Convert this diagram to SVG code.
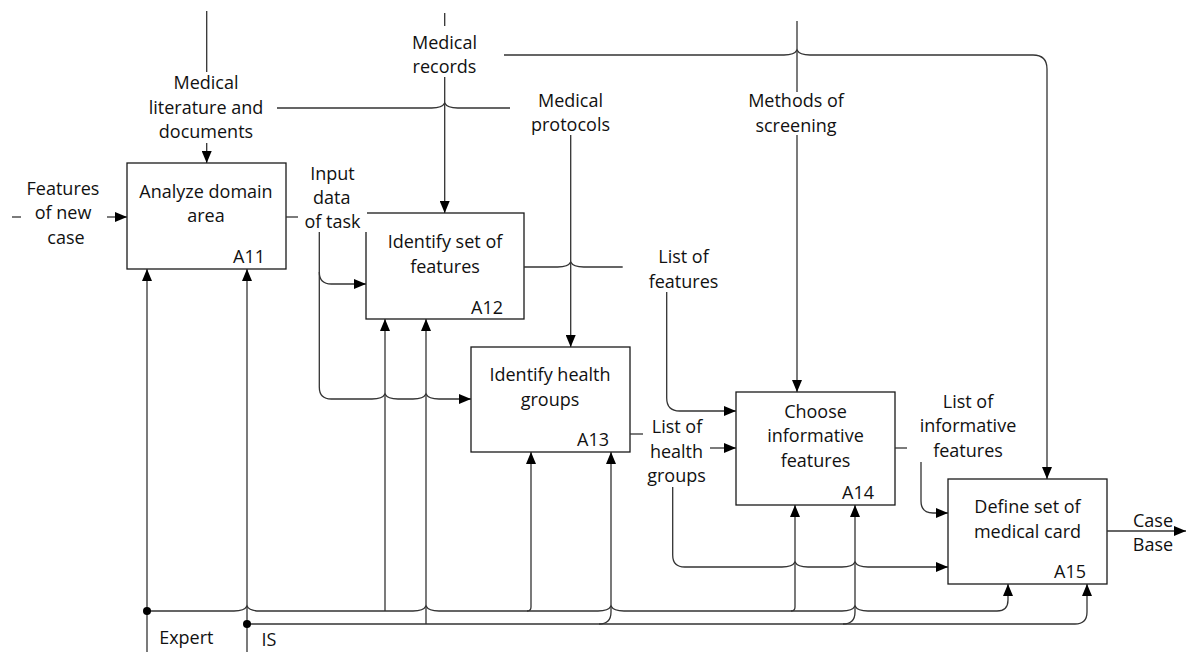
<svg xmlns="http://www.w3.org/2000/svg" width="1186" height="652" viewBox="0 0 1186 652">
<style>
.box{fill:#fff;stroke:#1a1a1a;stroke-width:1.3}
.t{font-family:"Open Sans","Liberation Sans",sans-serif;font-size:18px;fill:#111;text-anchor:middle}
.code{text-anchor:end}
.ln{fill:none;stroke:#333;stroke-width:1.3}
.arr{marker-end:url(#ah)}
</style>
<defs>
<marker id="ah" markerWidth="12" markerHeight="10" refX="12" refY="5" orient="auto" markerUnits="userSpaceOnUse">
<path d="M0,0 L12,5 L0,10 z" fill="#000"/>
</marker>
</defs>
<rect width="1186" height="652" fill="#fff"/>

<g id="A11">
<rect class="box" x="127" y="163" width="159" height="106"/>
<text class="t" x="206" y="198.3">Analyze domain</text>
<text class="t" x="206" y="222">area</text>
<text class="t code" x="265" y="263.3">A11</text>
</g>
<g id="A12">
<rect class="box" x="366" y="213" width="158" height="106"/>
<text class="t" x="445" y="247.7">Identify set of</text>
<text class="t" x="445" y="272.5">features</text>
<text class="t code" x="503" y="314">A12</text>
</g>
<g id="A13">
<rect class="box" x="471" y="347" width="159" height="105"/>
<text class="t" x="550" y="381">Identify health</text>
<text class="t" x="550" y="405.5">groups</text>
<text class="t code" x="609" y="445.7">A13</text>
</g>
<g id="A14">
<rect class="box" x="736" y="392" width="159" height="113"/>
<text class="t" x="815.5" y="418.3">Choose</text>
<text class="t" x="815.5" y="441.7">informative</text>
<text class="t" x="815.5" y="466.7">features</text>
<text class="t code" x="874" y="499">A14</text>
</g>
<g id="A15">
<rect class="box" x="948" y="479" width="159" height="105"/>
<text class="t" x="1027.5" y="513.3">Define set of</text>
<text class="t" x="1027.5" y="537.7">medical card</text>
<text class="t code" x="1086" y="578.3">A15</text>
</g>

<g id="connectors">
<!-- Medical literature -->
<path class="ln" d="M206.7 11 V72"/>
<path class="ln arr" d="M206.7 143 V163"/>
<path class="ln" d="M277 108 H431.7 C438.7,108 442.7,107 444.7,103 C446.7,107 450.7,108 457.7,108 H510"/>
<text class="t" x="206" y="89.3">Medical</text>
<text class="t" x="206" y="113.8">literature and</text>
<text class="t" x="206" y="138.3">documents</text>
<!-- Medical records -->
<path class="ln" d="M444.7 13 V26"/>
<path class="ln arr" d="M444.7 77 V213"/>
<text class="t" x="444.5" y="48.7">Medical</text>
<text class="t" x="444.5" y="72.7">records</text>
<path class="ln arr" d="M504 55 H784 C791,55 795,54 797,50 C799,54 803,55 810,55 H1033 Q1047,55 1047,69 V479"/>
<!-- Medical protocols -->
<path class="ln arr" d="M570.7 135 V347"/>
<text class="t" x="570.5" y="106.7">Medical</text>
<text class="t" x="570.5" y="131">protocols</text>
<!-- Methods of screening -->
<path class="ln" d="M797 21 V92"/>
<path class="ln arr" d="M797 135 V392"/>
<text class="t" x="796" y="107.3">Methods of</text>
<text class="t" x="796" y="131.7">screening</text>
<!-- Features of new case -->
<path class="ln" d="M12 217 H21"/>
<path class="ln arr" d="M107 217 H127"/>
<text class="t" x="63" y="195">Features</text>
<text class="t" x="63" y="219">of new</text>
<text class="t" x="66" y="243.5">case</text>
<!-- Input data of task -->
<path class="ln" d="M286 217 H298"/>
<rect x="300" y="200" width="67" height="32" fill="#fff"/>
<path class="ln arr" d="M319.3 232 V272 Q319.3,284 331.3,284 H366"/>
<path class="ln arr" d="M319.3 272 V387 Q319.3,399 331.3,399 H372 C379,399 383,398 385,394 C387,398 391,399 398,399 H413 C420,399 424,398 426,394 C428,398 432,399 439,399 H471"/>
<text class="t" x="332.5" y="180">Input</text>
<text class="t" x="331.7" y="204">data</text>
<text class="t" x="332.5" y="227.7">of task</text>
<!-- List of features -->
<path class="ln" d="M524 267 H557.7 C564.7,267 568.7,266 570.7,262 C572.7,266 576.7,267 583.7,267 H622.7"/>
<path class="ln arr" d="M666.7 292 V398 Q666.7,411 679.7,411 H736"/>
<text class="t" x="683.5" y="263.3">List of</text>
<text class="t" x="683.5" y="287.7">features</text>
<!-- List of health groups -->
<path class="ln" d="M630 434 H643"/>
<path class="ln arr" d="M710 448 H736"/>
<path class="ln arr" d="M672.7 487 V555 Q672.7,567 684.7,567 H782 C789,567 793,566 795,562 C797,566 801,567 808,567 H842 C849,567 853,566 855,562 C857,566 861,567 868,567 H948"/>
<text class="t" x="677" y="433.3">List of</text>
<text class="t" x="676.5" y="458.3">health</text>
<text class="t" x="676.5" y="481.7">groups</text>
<!-- List of informative features -->
<path class="ln" d="M895 448 H907"/>
<path class="ln arr" d="M921 462 V501 Q921,513 933,513 H948"/>
<text class="t" x="968" y="408.3">List of</text>
<text class="t" x="968" y="432.3">informative</text>
<text class="t" x="968" y="456.7">features</text>
<!-- Case Base -->
<path class="ln arr" d="M1107 531 H1186"/>
<text class="t" x="1153" y="526.7">Case</text>
<text class="t" x="1153" y="550.7">Base</text>
<!-- Expert -->
<path class="ln arr" d="M147 652 V269"/>
<path class="ln arr" d="M147 611 H234 C241,611 245,610 247,606 C249,610 253,611 260,611 H413 C420,611 424,610 426,606 C428,610 432,611 439,611 H598 C605,611 609,610 611,606 C613,610 617,611 624,611 H842 C849,611 853,610 855,606 C857,610 861,611 868,611 H997 Q1008,611 1008,600 V584"/>
<path class="ln arr" d="M385 611 V319"/>
<path class="ln arr" d="M527 611 Q531,611 531,607 V452"/>
<path class="ln arr" d="M791 611 Q795,611 795,607 V505"/>
<circle cx="147" cy="611" r="4" fill="#000"/>
<text class="t" x="186.3" y="644">Expert</text>
<!-- IS -->
<path class="ln arr" d="M247 652 V269"/>
<path class="ln arr" d="M247 624 H1075 Q1087,624 1087,612 V584"/>
<path class="ln arr" d="M426 624 V319"/>
<path class="ln arr" d="M599 624 Q611,624 611,612 V452"/>
<path class="ln arr" d="M843 624 Q855,624 855,612 V505"/>
<circle cx="247" cy="624" r="4" fill="#000"/>
<text class="t" x="269" y="646">IS</text>
</g>
</svg>
